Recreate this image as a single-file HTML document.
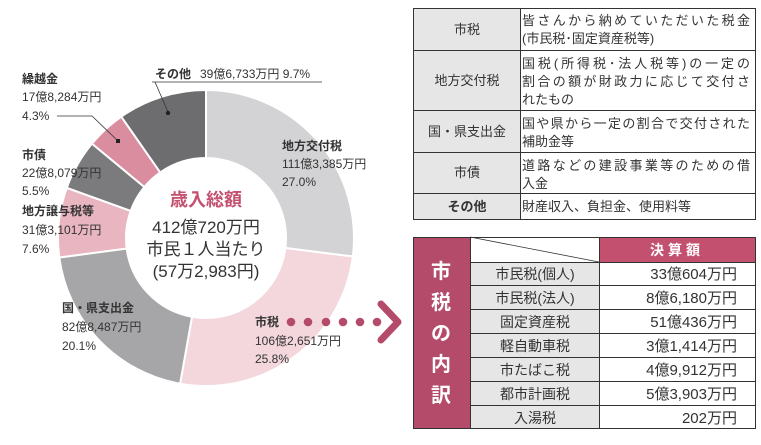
<!DOCTYPE html>
<html><head><meta charset="utf-8">
<style>
body{margin:0;background:#fff;}
svg text{font-family:"Liberation Sans","Noto Sans CJK JP",sans-serif;fill:#333;}
.b{font-weight:bold;}
</style></head>
<body>
<svg id="s" width="761" height="440" viewBox="0 0 761 440" xmlns="http://www.w3.org/2000/svg">
<g id="donut"></g>
<polyline points="152,82 322,82" fill="none" stroke="#333" stroke-width="0.8"/>
<polyline points="155,82 168,112" fill="none" stroke="#333" stroke-width="0.8"/>
<circle cx="168" cy="113" r="2.2" fill="#222"/>
<polyline points="57,116 92,116 118,141" fill="none" stroke="#333" stroke-width="0.8"/>
<rect x="116" y="139" width="4" height="4" fill="#222"/>
<text x="155" y="78" font-size="12" class="b">その他</text>
<text x="200" y="78" font-size="12">39億6,733万円 9.7%</text>
<text x="22" y="83" font-size="12" class="b">繰越金</text>
<text x="22" y="101" font-size="12">17億8,284万円</text>
<text x="22" y="120" font-size="12">4.3%</text>
<text x="22" y="159" font-size="12" class="b">市債</text>
<text x="22" y="177" font-size="12">22億8,079万円</text>
<text x="22" y="195" font-size="12">5.5%</text>
<text x="22" y="215" font-size="12" class="b">地方譲与税等</text>
<text x="22" y="234" font-size="12">31億3,101万円</text>
<text x="22" y="253" font-size="12">7.6%</text>
<text x="62" y="312" font-size="12" class="b">国・県支出金</text>
<text x="62" y="331" font-size="12">82億8,487万円</text>
<text x="62" y="350" font-size="12">20.1%</text>
<text x="282" y="150" font-size="12" class="b">地方交付税</text>
<text x="282" y="168" font-size="12">111億3,385万円</text>
<text x="282" y="186" font-size="12">27.0%</text>
<text x="255" y="326" font-size="12" class="b">市税</text>
<text x="255" y="345" font-size="12">106億2,651万円</text>
<text x="255" y="363" font-size="12">25.8%</text>
<text x="206" y="206" font-size="18" class="b" text-anchor="middle" style="fill:#c4506f">歳入総額</text>
<text x="206" y="233" font-size="17" text-anchor="middle">412億720万円</text>
<text x="206" y="255" font-size="17" text-anchor="middle">市民１人当たり</text>
<text x="206" y="277" font-size="17" text-anchor="middle">(57万2,983円)</text>
<g fill="#b54b6b">
<circle cx="291" cy="322" r="4.3"/><circle cx="308" cy="322" r="4.3"/><circle cx="326" cy="322" r="4.3"/>
<circle cx="343" cy="322" r="4.3"/><circle cx="360" cy="322" r="4.3"/><circle cx="377" cy="322" r="4.3"/>
</g>
<polyline points="381,304 398,322 381,340" fill="none" stroke="#b54b6b" stroke-width="7" stroke-linecap="round" stroke-linejoin="round"/>
<g stroke="#333" stroke-width="1">
<rect x="413.5" y="8.5" width="342" height="211" fill="#fff"/>
<rect x="413.5" y="8.5" width="107" height="211" fill="#e6e6e6"/>
<line x1="413" y1="50.5" x2="756" y2="50.5"/>
<line x1="413" y1="110.5" x2="756" y2="110.5"/>
<line x1="413" y1="152.5" x2="756" y2="152.5"/>
<line x1="413" y1="193.5" x2="756" y2="193.5"/>
</g>
<g font-size="13" text-anchor="middle">
<text x="467" y="34">市税</text>
<text x="467" y="85">地方交付税</text>
<text x="467" y="136">国・県支出金</text>
<text x="467" y="177">市債</text>
<text x="467" y="211" class="b">その他</text>
</g>
<g font-size="13">
<text x="522" y="25" textLength="228">皆さんから納めていただいた税金</text>
<text x="522" y="43">(市民税･固定資産税等)</text>
<text x="522" y="68" textLength="228">国税(所得税･法人税等)の一定の</text>
<text x="522" y="86" textLength="228">割合の額が財政力に応じて交付さ</text>
<text x="522" y="104">れたもの</text>
<text x="522" y="128" textLength="228">国や県から一定の割合で交付された</text>
<text x="522" y="146">補助金等</text>
<text x="522" y="170" textLength="228">道路などの建設事業等のための借</text>
<text x="522" y="188">入金</text>
<text x="522" y="211">財産収入、負担金、使用料等</text>
</g>
<rect x="413" y="237" width="57" height="192" fill="#b54b6b"/>
<rect x="470" y="262" width="129" height="167" fill="#e6e6e6"/>
<rect x="599" y="237" width="157" height="25" fill="#c4506f"/>
<g stroke="#333" stroke-width="1" fill="none">
<rect x="413.5" y="237.5" width="342" height="191"/>
<line x1="470.5" y1="237" x2="470.5" y2="429"/>
<line x1="599.5" y1="237" x2="599.5" y2="429"/>
<line x1="470" y1="237" x2="599" y2="262" stroke-width="0.8"/>
<line x1="470" y1="262.5" x2="756" y2="262.5"/>
<line x1="470" y1="285.5" x2="756" y2="285.5"/>
<line x1="470" y1="309.5" x2="756" y2="309.5"/>
<line x1="470" y1="333.5" x2="756" y2="333.5"/>
<line x1="470" y1="357.5" x2="756" y2="357.5"/>
<line x1="470" y1="381.5" x2="756" y2="381.5"/>
<line x1="470" y1="405.5" x2="756" y2="405.5"/>
</g>
<g font-size="20" class="b" text-anchor="middle">
<text x="441" y="278" style="fill:#fff">市</text>
<text x="441" y="309" style="fill:#fff">税</text>
<text x="441" y="340" style="fill:#fff">の</text>
<text x="441" y="371" style="fill:#fff">内</text>
<text x="441" y="402" style="fill:#fff">訳</text>
</g>
<text x="677" y="255" font-size="14" class="b" text-anchor="middle" style="fill:#fff;letter-spacing:4px">決算額</text>
<g font-size="14" text-anchor="middle">
<text x="535" y="279">市民税(個人)</text>
<text x="535" y="303">市民税(法人)</text>
<text x="535" y="327">固定資産税</text>
<text x="535" y="351">軽自動車税</text>
<text x="535" y="375">市たばこ税</text>
<text x="535" y="399">都市計画税</text>
<text x="535" y="423">入湯税</text>
</g>
<g font-size="15" text-anchor="end">
<text x="737" y="279">33億604万円</text>
<text x="737" y="303">8億6,180万円</text>
<text x="737" y="327">51億436万円</text>
<text x="737" y="351">3億1,414万円</text>
<text x="737" y="375">4億9,912万円</text>
<text x="737" y="399">5億3,903万円</text>
<text x="737" y="423">202万円</text>
</g>
</svg>
<script>
(function(){
var cx=206,cy=238,R=148,r=80;
var d=[[.270,"#d3d3d5"],[.258,"#f3d7dd"],[.201,"#a6a6a9"],[.076,"#e8b5c0"],[.055,"#7b7b7e"],[.043,"#d98d9f"],[.097,"#6d6d70"]];
var a=0,g=document.getElementById("donut"),h="";
function p(rad,t){var x=cx+rad*Math.sin(t*2*Math.PI),y=cy-rad*Math.cos(t*2*Math.PI);return x.toFixed(2)+","+y.toFixed(2);}
d.forEach(function(s){var b=a+s[0],l=s[0]>.5?1:0;
h+='<path d="M'+p(R,a)+' A'+R+','+R+' 0 '+l+' 1 '+p(R,b)+' L'+p(r,b)+' A'+r+','+r+' 0 '+l+' 0 '+p(r,a)+' Z" fill="'+s[1]+'" stroke="#fff" stroke-width="2"/>';a=b;});
g.innerHTML=h;
})();
</script>
</body></html>
